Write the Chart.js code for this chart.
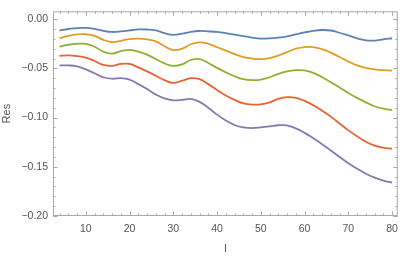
<!DOCTYPE html>
<html>
<head>
<meta charset="utf-8">
<script src="https://cdn.jsdelivr.net/npm/chart.js@4"></script>
<style>
  html, body { margin:0; padding:0; background:#fff; }
  #c { display:block; }
</style>
</head>
<body>
<canvas id="c" width="405" height="256"></canvas>
<script>
/* values */
const xs = [4,6,8,10,12,14,16,18,20,22,24,26,28,30,32,34,36,38,40,42,44,46,48,50,52,54,56,58,60,62,64,66,68,70,72,74,76,78,80];

const res1 = [-0.0115,-0.0100,-0.0090,-0.0088,-0.0098,-0.0118,-0.0130,-0.0125,-0.0114,-0.0104,-0.0105,-0.0115,-0.0143,-0.0160,-0.0148,-0.0128,-0.0120,-0.0124,-0.0130,-0.0142,-0.0157,-0.0172,-0.0187,-0.0197,-0.0196,-0.0188,-0.0175,-0.0155,-0.0135,-0.0118,-0.0110,-0.0115,-0.0138,-0.0165,-0.0195,-0.0215,-0.0218,-0.0205,-0.0194];
const res2 = [-0.0194,-0.0170,-0.0155,-0.0153,-0.0170,-0.0210,-0.0232,-0.0220,-0.0202,-0.0198,-0.0205,-0.0225,-0.0275,-0.0314,-0.0300,-0.0255,-0.0236,-0.0250,-0.0285,-0.0320,-0.0355,-0.0385,-0.0400,-0.0405,-0.0395,-0.0370,-0.0335,-0.0300,-0.0283,-0.0283,-0.0305,-0.0340,-0.0385,-0.0430,-0.0470,-0.0495,-0.0510,-0.0518,-0.0522];
const res3 = [-0.0280,-0.0260,-0.0250,-0.0252,-0.0280,-0.0330,-0.0350,-0.0325,-0.0312,-0.0330,-0.0360,-0.0405,-0.0450,-0.0475,-0.0460,-0.0415,-0.0405,-0.0445,-0.0495,-0.0540,-0.0580,-0.0610,-0.0620,-0.0615,-0.0590,-0.0555,-0.0530,-0.0518,-0.0520,-0.0545,-0.0590,-0.0640,-0.0695,-0.0750,-0.0800,-0.0845,-0.0885,-0.0910,-0.0925];
const res4 = [-0.0372,-0.0368,-0.0375,-0.0390,-0.0425,-0.0465,-0.0475,-0.0455,-0.0455,-0.0490,-0.0530,-0.0575,-0.0620,-0.0648,-0.0625,-0.0600,-0.0610,-0.0660,-0.0720,-0.0775,-0.0820,-0.0855,-0.0868,-0.0865,-0.0845,-0.0810,-0.0793,-0.0800,-0.0830,-0.0875,-0.0930,-0.0990,-0.1060,-0.1130,-0.1190,-0.1245,-0.1285,-0.1305,-0.1317];
const res5 = [-0.0469,-0.0470,-0.0480,-0.0510,-0.0550,-0.0590,-0.0605,-0.0600,-0.0615,-0.0660,-0.0710,-0.0765,-0.0805,-0.0825,-0.0820,-0.0810,-0.0840,-0.0900,-0.0970,-0.1030,-0.1075,-0.1100,-0.1107,-0.1100,-0.1090,-0.1078,-0.1080,-0.1110,-0.1155,-0.1210,-0.1270,-0.1335,-0.1400,-0.1465,-0.1520,-0.1570,-0.1610,-0.1640,-0.1660];

const xTicks = [10,20,30,40,50,60,70,80];
const xMinor = [4,6,8,12,14,16,18,22,24,26,28,32,34,36,38,42,44,46,48,52,54,56,58,62,64,66,68,72,74,76,78];
const yTicks = [-0.20,-0.15,-0.10,-0.05,0.00];
const yLabels = ['\u22120.20','\u22120.15','\u22120.10','\u22120.05','0.00'];
const yMinor = [-0.19,-0.18,-0.17,-0.16,-0.14,-0.13,-0.12,-0.11,-0.09,-0.08,-0.07,-0.06,-0.04,-0.03,-0.02,-0.01];

const colors = ['#5E81B5','#E19C24','#8FB032','#EB6235','#8778B3'];
const series = [res1,res2,res3,res4,res5];

const FONT = '"Liberation Sans", Arial, sans-serif';
const TXT = '#555';
const FRAME = '#aaa';

// frame + inward ticks on all four sides, Mathematica style
const framePlugin = {
  id: 'frame',
  afterDraw(chart) {
    const {ctx, chartArea: a, scales: {x, y}} = chart;
    ctx.save();
    ctx.strokeStyle = FRAME;
    ctx.lineWidth = 1;
    ctx.strokeRect(a.left + 0.5, a.top + 0.5, a.right - a.left - 1, a.bottom - a.top - 1);
    const tick = (x1, y1, x2, y2) => { ctx.beginPath(); ctx.moveTo(x1, y1); ctx.lineTo(x2, y2); ctx.stroke(); };
    const xt = (v, len) => {
      const p = Math.round(x.getPixelForValue(v)) + 0.5;
      tick(p, a.bottom, p, a.bottom - len);
      tick(p, a.top, p, a.top + len);
    };
    const yt = (v, len) => {
      const p = Math.round(y.getPixelForValue(v)) + 0.5;
      tick(a.left, p, a.left + len, p);
      tick(a.right, p, a.right - len, p);
    };
    xTicks.forEach(v => xt(v, 4.5));
    xMinor.forEach(v => xt(v, 2.5));
    yTicks.forEach(v => yt(v, 4.5));
    yMinor.forEach(v => yt(v, 2.5));
    ctx.restore();
  }
};

new Chart(document.getElementById('c'), {
  type: 'line',
  data: {
    datasets: series.map((s, i) => ({
      data: xs.map((v, j) => ({x: v, y: s[j]})),
      borderColor: colors[i],
      borderWidth: 1.8,
      pointRadius: 0,
      tension: 0.4,
      fill: false
    }))
  },
  options: {
    responsive: false,
    animation: false,
    devicePixelRatio: 1,
    layout: { padding: { left: 0, right: 4, top: 2, bottom: 0 } },
    plugins: { legend: { display: false }, tooltip: { enabled: false } },
    scales: {
      x: {
        type: 'linear', min: 2.5, max: 81.3,
        grid: { display: false, drawTicks: false },
        border: { display: false },
        afterBuildTicks: s => { s.ticks = xTicks.map(v => ({value: v})); },
        afterFit: s => { s.height = 40; },
        ticks: { color: TXT, font: { family: FONT, size: 10.5 }, padding: 7, maxRotation: 0,
                 callback: v => String(v) },
        title: { display: true, text: 'l', color: TXT, font: { family: FONT, size: 11 }, padding: 0 }
      },
      y: {
        type: 'linear', min: -0.2, max: 0.008,
        grid: { display: false, drawTicks: false },
        border: { display: false },
        afterBuildTicks: s => { s.ticks = yTicks.map(v => ({value: v})); },
        afterFit: s => { s.width = 53; },
        ticks: { color: TXT, font: { family: FONT, size: 10.5 }, padding: 5,
                 callback: (v, i) => yLabels[i] },
        title: { display: true, text: 'Res', color: TXT, font: { family: FONT, size: 11 }, padding: 0 }
      }
    }
  },
  plugins: [framePlugin]
});
</script>
</body>
</html>
